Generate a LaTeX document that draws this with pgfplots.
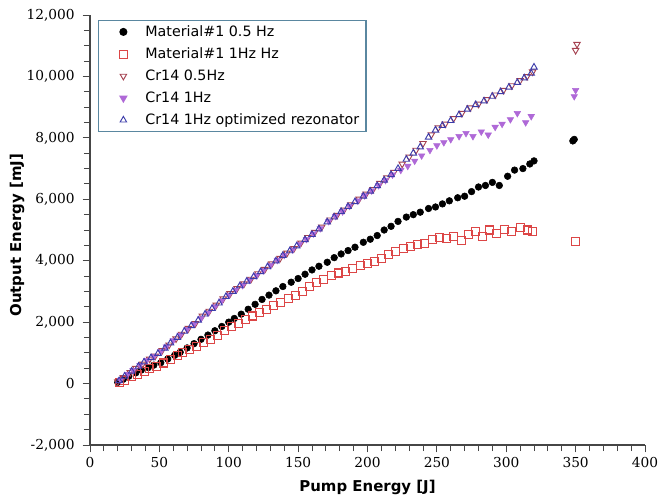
\documentclass[border=0pt]{standalone}
\usepackage{fontspec}
\setmainfont{DejaVu Sans}
\newfontfamily\numfont{DejaVu Serif}
\usepackage{pgfplots}
\pgfplotsset{compat=1.18}

\definecolor{axgray}{RGB}{70,70,70}
\definecolor{legbord}{RGB}{90,135,160}
\definecolor{matred}{RGB}{220,70,70}
\definecolor{crdark}{RGB}{165,65,80}
\definecolor{crviolet}{RGB}{175,105,215}
\definecolor{crblue}{RGB}{60,60,170}

\pgfplotsset{
    legmark/.style={legend image code/.code={%
        \path (-15pt,0pt) (14pt,0pt);
        \draw[##1] plot coordinates {(0pt,0pt)};}},
}

\begin{document}
\begin{tikzpicture}
\begin{axis}[
    scale only axis,
    width=416.25pt, height=322.5pt,
    xmin=0, xmax=400,
    ymin=-2000, ymax=12000,
    xtick={0,50,...,400},
    ytick={-2000,0,...,12000},
    minor x tick num=4,
    minor y tick num=3,
    axis x line*=bottom,
    axis y line*=left,
    axis line style={axgray, line width=0.8pt, -},
    every tick/.style={axgray, line width=0.7pt},
    tick align=outside,
    major tick length=5.5pt,
    minor tick length=4.5pt,
    /pgf/number format/assume math mode=true,
    /pgf/number format/1000 sep={,},
    scaled y ticks=false,
    tick label style={font=\numfont\fontsize{10.3}{12}\selectfont, text=black},
    yticklabel style={xshift=-2.5pt},
    xlabel={Pump Energy [J]},
    ylabel={Output Energy [mJ]},
    xlabel style={font=\bfseries\fontsize{11.2}{13}\selectfont,
        at={(axis description cs:0.5,0)}, anchor=center, yshift=-31.5pt},
    ylabel style={font=\bfseries\fontsize{11.2}{13}\selectfont,
        at={(axis description cs:-0.1315,0.488)}, anchor=center},
    legend style={at={(0.0145,0.988)}, anchor=north west,
        draw=legbord, line width=1pt,
        font=\fontsize{10.7}{12.5}\selectfont,
        cells={anchor=west}, row sep=3pt,
        inner xsep=3pt, inner ysep=1.5pt},
    legend cell align=left,
]

% Material#1 0.5 Hz
\addplot[only marks, mark=*, mark size=2.5pt, black, legmark] coordinates {
(20,40) (24,140) (28,240) (33,350) (37,440) (42,520) (46,600) (51,680)
(56,800) (61,920) (65,1020) (70,1160) (75,1300) (80,1440) (85,1580)
(90,1720) (95,1860) (100,2000) (104,2120) (109,2260) (114,2420)
(119,2580) (124,2740) (129,2880) (134,3020) (139,3160) (145,3300)
(150,3420) (155,3560) (160,3700) (165,3820) (171,3950) (176,4100)
(181,4220) (186,4330) (191,4440) (197,4600) (202,4700) (207,4820)
(212,5000) (217,5120) (222,5280) (228,5420) (233,5500) (238,5580)
(244,5700) (249,5750) (254,5850) (259,5950) (265,6050) (270,6100)
(275,6250) (280,6400) (285,6450) (290,6550) (295,6450) (301,6750)
(306,6950) (312,7000) (317,7150) (320,7250) (348,7900) (349,7950)
};
\addlegendentry{Material\#1 0.5 Hz}

% Material#1 1Hz
\addplot[only marks, mark=square, mark size=3pt, draw=matred, color=matred,
    mark options={draw=matred}, line width=0.8pt, legmark] coordinates {
(21,30) (25,110) (30,220) (34,300) (39,400) (43,480) (48,570) (53,670)
(58,790) (63,900) (67,1000) (72,1100) (77,1200) (82,1330) (87,1450)
(92,1580) (97,1720) (102,1850) (107,1950) (112,2080) (117,2200)
(122,2310) (127,2420) (132,2550) (137,2650) (143,2760) (148,2880)
(153,3000) (158,3150) (163,3280) (168,3380) (174,3520) (179,3600)
(184,3650) (189,3750) (195,3850) (200,3900) (205,3980) (210,4080)
(215,4200) (220,4300) (226,4400) (231,4450) (236,4520) (241,4560)
(247,4680) (252,4750) (257,4720) (262,4800) (268,4650) (273,4850)
(278,4950) (283,4800) (288,5000) (293,4900) (299,5020) (304,4950)
(310,5080) (315,5000) (319,4950) (350,4640)
};
\addlegendentry{Material\#1 1Hz Hz}

% Cr14 0.5Hz
\addplot[only marks, mark=triangle, mark options={rotate=180}, mark size=2.8pt, crdark, line width=0.7pt, legmark] coordinates {
(20,60) (24,200) (29,360) (33,500) (38,640) (43,800) (47,900) (52,1080)
(57,1260) (62,1460) (66,1610) (71,1800) (76,1960) (81,2200) (86,2360)
(91,2560) (96,2760) (101,2930) (106,3100) (111,3250) (116,3400)
(121,3580) (126,3720) (131,3900) (137,4080) (142,4250) (147,4400)
(152,4580) (157,4760) (162,4930) (167,5100) (173,5330) (178,5480)
(183,5650) (188,5820) (194,6010) (199,6170) (204,6320) (209,6520)
(214,6700) (219,6880) (225,7150) (230,7380) (235,7600) (240,7820)
(246,8100) (251,8330) (256,8450) (262,8630) (268,8800) (274,8980)
(280,9100) (286,9250) (292,9400) (298,9550) (304,9700) (310,9870)
(315,10000) (319,10150) (350,10850) (351,11050)
};
\addlegendentry{Cr14 0.5Hz}

% Cr14 1Hz
\addplot[only marks, mark=triangle*, mark options={rotate=180}, mark size=2.8pt, crviolet, legmark] coordinates {
(22,120) (27,300) (31,430) (36,600) (41,760) (46,880) (51,1040) (55,1200)
(60,1400) (65,1580) (70,1760) (75,1930) (80,2120) (85,2300) (90,2500)
(95,2700) (100,2880) (105,3050) (110,3200) (115,3370) (120,3520)
(125,3680) (130,3850) (135,4020) (140,4180) (146,4360) (151,4540)
(156,4700) (161,4880) (166,5050) (172,5280) (177,5450) (182,5600)
(187,5780) (193,5950) (198,6120) (203,6280) (208,6450) (213,6620)
(218,6800) (224,6950) (229,7080) (234,7250) (239,7420) (245,7600)
(250,7750) (255,7850) (260,7950) (266,8050) (271,8150) (276,8050)
(282,8200) (287,8100) (292,8350) (297,8450) (303,8600) (308,8800)
(314,8500) (318,8700) (349,9350) (350,9550)
};
\addlegendentry{Cr14 1Hz}

% Cr14 1Hz optimized rezonator
\addplot[only marks, mark=triangle, mark size=2.8pt, crblue, line width=0.7pt, legmark] coordinates {
(21,90) (25,240) (30,400) (35,560) (39,700) (44,840) (49,980) (54,1150)
(58,1320) (63,1500) (68,1700) (73,1880) (78,2060) (83,2260) (88,2440)
(93,2620) (98,2830) (103,3000) (108,3180) (113,3330) (118,3480)
(123,3640) (128,3800) (134,3990) (139,4170) (144,4320) (149,4480)
(155,4680) (160,4850) (165,5030) (171,5260) (176,5420) (181,5600)
(186,5760) (191,5920) (197,6100) (202,6260) (207,6440) (212,6620)
(217,6800) (222,7000) (228,7300) (233,7500) (238,7700) (244,8020)
(249,8250) (254,8400) (260,8560) (266,8750) (272,8930) (278,9080)
(284,9200) (290,9350) (296,9500) (302,9650) (308,9800) (313,9950)
(318,10100) (320,10300)
};
\addlegendentry{Cr14 1Hz optimized rezonator}

\end{axis}
\pgfresetboundingbox
\path[use as bounding box] ([shift={(-67.5pt,-39pt)}]current axis.south west)
    rectangle ([shift={(11.25pt,11.25pt)}]current axis.north east);
\end{tikzpicture}
\end{document}
